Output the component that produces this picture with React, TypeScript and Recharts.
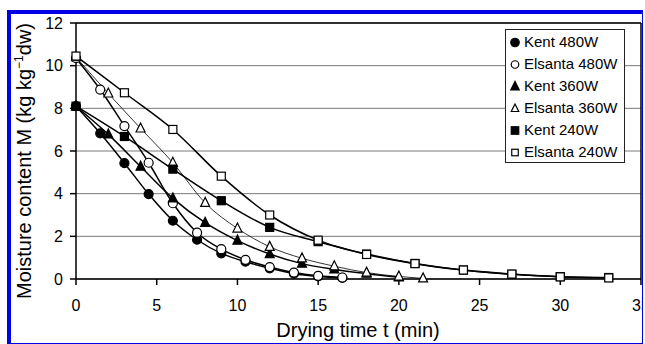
import React from "react";
import {
  CartesianGrid,
  Label,
  Legend,
  Line,
  LineChart,
  ReferenceLine,
  XAxis,
  YAxis,
} from "recharts";

const FONT = '"Liberation Sans", Arial, sans-serif';

// drying time (min) and moisture content (kg/kg dw) per series
const kent480T = [0, 1.5, 3, 4.5, 6, 7.5, 9, 10.5, 12, 13.5, 15, 16.5];
const kent480M = [8.1, 6.83, 5.43, 3.98, 2.73, 1.84, 1.2, 0.81, 0.5, 0.25, 0.12, 0.05];

const elsanta480T = [0, 1.5, 3, 4.5, 6, 7.5, 9, 10.5, 12, 13.5, 15, 16.5];
const elsanta480M = [10.35, 8.88, 7.17, 5.45, 3.55, 2.17, 1.4, 0.9, 0.56, 0.3, 0.15, 0.07];

const kent360T = [0, 2, 4, 6, 8, 10, 12, 14, 16, 18, 20];
const kent360M = [8.1, 6.78, 5.27, 3.78, 2.64, 1.8, 1.17, 0.72, 0.45, 0.25, 0.08];

const elsanta360T = [0, 2, 4, 6, 8, 10, 12, 14, 16, 18, 20, 21.5];
const elsanta360M = [10.4, 8.7, 7.06, 5.45, 3.57, 2.37, 1.51, 0.97, 0.6, 0.3, 0.12, 0.03];

const kent240T = [0, 3, 6, 9, 12, 15, 18, 21, 24, 27, 30, 33];
const kent240M = [8.1, 6.68, 5.15, 3.67, 2.42, 1.75, 1.17, 0.73, 0.42, 0.22, 0.11, 0.07];

const elsanta240T = [0, 3, 6, 9, 12, 15, 18, 21, 24, 27, 30, 33];
const elsanta240M = [10.45, 8.73, 7.01, 4.82, 3.0, 1.82, 1.15, 0.72, 0.42, 0.23, 0.1, 0.05];

const xTicks = [0, 5, 10, 15, 20, 25, 30, 35];
const yTicks = [0, 2, 4, 6, 8, 10, 12];

const toRows = (t: number[], m: number[]) => t.map((x, i) => ({ t: x, m: m[i] }));

const series = [
  { name: "Kent 480W", data: toRows(kent480T, kent480M), kind: "circle", filled: true, w: 1.5 },
  { name: "Elsanta 480W", data: toRows(elsanta480T, elsanta480M), kind: "circle", filled: false, w: 1.5 },
  { name: "Kent 360W", data: toRows(kent360T, kent360M), kind: "triangle", filled: true, w: 1.5 },
  { name: "Elsanta 360W", data: toRows(elsanta360T, elsanta360M), kind: "triangle", filled: false, w: 0.8 },
  { name: "Kent 240W", data: toRows(kent240T, kent240M), kind: "square", filled: true, w: 1.5 },
  { name: "Elsanta 240W", data: toRows(elsanta240T, elsanta240M), kind: "square", filled: false, w: 1.5 },
];

function marker(kind: string, filled: boolean, cx: number, cy: number, size: number, key?: any) {
  const fill = filled ? "#000" : "#fff";
  const sw = 1.2;
  if (kind === "circle") {
    return <circle key={key} cx={cx} cy={cy} r={size / 2} fill={fill} stroke="#000" strokeWidth={sw} />;
  }
  if (kind === "square") {
    const s = size - 1;
    return <rect key={key} x={cx - s / 2} y={cy - s / 2} width={s} height={s} fill={fill} stroke="#000" strokeWidth={sw} />;
  }
  const h = size;
  const pts = `${cx},${cy - h * 0.6} ${cx - h / 2},${cy + h * 0.4} ${cx + h / 2},${cy + h * 0.4}`;
  return <polygon key={key} points={pts} fill={fill} stroke="#000" strokeWidth={sw} />;
}

function LegendBox() {
  return (
    <div
      style={{
        width: 120,
        height: 134,
        boxSizing: "border-box",
        border: "1px solid #222",
        background: "#fff",
        fontFamily: FONT,
        fontSize: 15,
        color: "#000",
        position: "relative",
      }}
    >
      {series.map((s, i) => (
        <div
          key={s.name}
          style={{ position: "absolute", left: 0, top: 1 + i * 21.9, height: 22, width: 118 }}
        >
          <svg width={16} height={22} style={{ position: "absolute", left: 1, top: 0 }}>
            {marker(s.kind, s.filled, 8, 11.5, s.filled ? 8.5 : 7.5)}
          </svg>
          <span style={{ position: "absolute", left: 18, top: 2, lineHeight: "18px", whiteSpace: "nowrap" }}>
            {s.name}
          </span>
        </div>
      ))}
    </div>
  );
}

export default function App() {
  return (
    <div style={{ position: "absolute", left: 0, top: 0, width: 645, height: 344, background: "#fff" }}>
      <div style={{ position: "absolute", left: 0, top: 0, width: 642, height: 343, overflow: "hidden" }}>
        <LineChart
          width={700}
          height={360}
          margin={{ top: 23, right: 59, bottom: 21, left: 0 }}
        >
          <CartesianGrid vertical={false} stroke="#7a7a7a" strokeWidth={1} />
          <XAxis
            type="number"
            dataKey="t"
            domain={[0, 35]}
            ticks={xTicks}
            height={60}
            stroke="#000"
            strokeWidth={1.5}
            tickSize={6}
            tickMargin={15}
            tick={{ fill: "#000", fontSize: 16, fontFamily: FONT }}
            allowDuplicatedCategory={false}
          >
            <Label
              content={() => (
                <text x={358} y={337} textAnchor="middle" fontFamily={FONT} fontSize={20} fill="#000">
                  Drying time t (min)
                </text>
              )}
            />
          </XAxis>
          <YAxis
            type="number"
            domain={[0, 12]}
            ticks={yTicks}
            width={76}
            stroke="#000"
            strokeWidth={1.5}
            tickSize={6}
            tickMargin={7}
            tick={{ fill: "#000", fontSize: 16, fontFamily: FONT }}
          >
            <Label
              content={() => (
                <text
                  x={0}
                  y={0}
                  transform="translate(31,161) rotate(-90)"
                  textAnchor="middle"
                  fontFamily={FONT}
                  fontSize={20}
                  fill="#000"
                >
                  Moisture content M (kg kg
                  <tspan fontSize={12} dy={-8}>−1</tspan>
                  <tspan dy={8}>dw)</tspan>
                </text>
              )}
            />
          </YAxis>
          <ReferenceLine y={12} stroke="#000" strokeWidth={1.5} />
          <ReferenceLine x={35} stroke="#000" strokeWidth={1.5} />
          {series.map((s) => (
            <Line
              key={s.name}
              name={s.name}
              data={s.data}
              dataKey="m"
              type="monotone"
              stroke="#000"
              strokeWidth={s.w}
              isAnimationActive={false}
              dot={(p: any) => marker(s.kind, s.filled, p.cx, p.cy, 9, p.key ?? `${s.name}-${p.index}`)}
              activeDot={false}
            />
          ))}
          <Legend
            layout="vertical"
            align="center"
            verticalAlign="middle"
            content={() => <LegendBox />}
            wrapperStyle={{ left: 505, top: 29, width: 120, height: 134, margin: 0 }}
          />
        </LineChart>
      </div>
      <div
        style={{
          position: "absolute",
          left: 7,
          top: 10,
          width: 636,
          height: 334,
          boxSizing: "border-box",
          borderTop: "4px solid #0000e6",
          borderLeft: "4px solid #0000e6",
          borderRight: "1px solid #0000e6",
          borderBottom: "1px solid #0000e6",
          pointerEvents: "none",
        }}
      />
    </div>
  );
}
